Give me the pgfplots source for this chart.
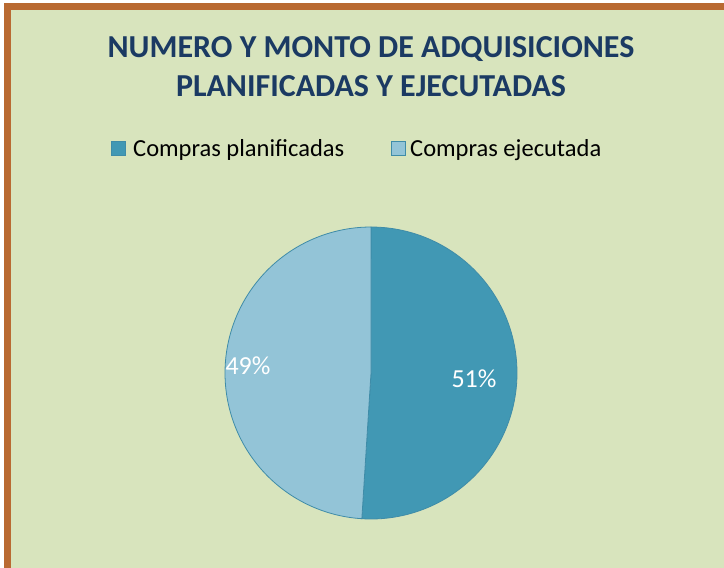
\documentclass[border=0pt]{standalone}
\usepackage{pgfplots}
\usepackage{pgfplotstable}
\pgfplotsset{compat=1.18}
\usepackage{fontspec}
\setmainfont{Carlito}
\definecolor{bg}{HTML}{D8E4BD}
\definecolor{frame}{HTML}{B96A32}
\definecolor{dark}{HTML}{4198B4}
\definecolor{light}{HTML}{93C4D7}
\definecolor{edge}{HTML}{3F8CA8}
\definecolor{titlec}{HTML}{1B3A63}
\pgfplotstableread{
label value
planificadas 51
ejecutada 49
}\piedata
\pgfplotstablegetelem{0}{value}\of\piedata \let\valA\pgfplotsretval
\pgfplotstablegetelem{1}{value}\of\piedata \let\valB\pgfplotsretval
\begin{document}
\begin{tikzpicture}
\begin{axis}[
  scale only axis, width=724pt, height=568pt,
  xmin=0, xmax=724, ymin=0, ymax=568, y dir=reverse,
  axis lines=none, clip=false,
]
% background and frame
\fill[white] (axis cs:0,0) rectangle (axis cs:724,568);
\fill[bg] (axis cs:4,4) rectangle (axis cs:724,568);
\fill[frame] (axis cs:4,3) rectangle (axis cs:724,10);
\fill[frame] (axis cs:4,3) rectangle (axis cs:11,568);
% pie
\pgfmathsetmacro{\tot}{\valA+\valB}
\pgfmathsetmacro{\aEnd}{90-360/\tot*\valA}
\pgfmathsetmacro{\bEnd}{\aEnd-360/\tot*\valB}
\addplot[fill=dark, draw=edge, line width=0.8pt, samples=120, domain=\aEnd:90, variable=\t]
  ({371+146*cos(t)},{373-146*sin(t)}) -- (axis cs:371,373) -- cycle;
\addplot[fill=light, draw=edge, line width=0.8pt, samples=120, domain=\bEnd:\aEnd, variable=\t]
  ({371+146*cos(t)},{373-146*sin(t)}) -- (axis cs:371,373) -- cycle;
% labels
\node[anchor=base, text=white, font=\fontsize{26}{30}\selectfont] at (axis cs:474,387) {\valA\%};
\node[anchor=base, text=white, font=\fontsize{26}{30}\selectfont] at (axis cs:248,374) {\valB\%};
% title
\node[anchor=base, text=titlec, font=\fontsize{32}{36}\selectfont\bfseries] at (axis cs:371,57) {NUMERO Y MONTO DE ADQUISICIONES};
\node[anchor=base, text=titlec, font=\fontsize{32}{36}\selectfont\bfseries] at (axis cs:371,96) {PLANIFICADAS Y EJECUTADAS};
% legend
\fill[dark, draw=edge] (axis cs:111,141) rectangle (axis cs:125,155);
\node[anchor=base west, inner sep=0pt, font=\fontsize{24.5}{30}\selectfont] at (axis cs:133,156) {Compras planificadas};
\fill[light, draw=edge] (axis cs:391,141) rectangle (axis cs:405,155);
\node[anchor=base west, inner sep=0pt, font=\fontsize{24.5}{30}\selectfont] at (axis cs:410,156) {Compras ejecutada};
\end{axis}
\end{tikzpicture}
\end{document}
